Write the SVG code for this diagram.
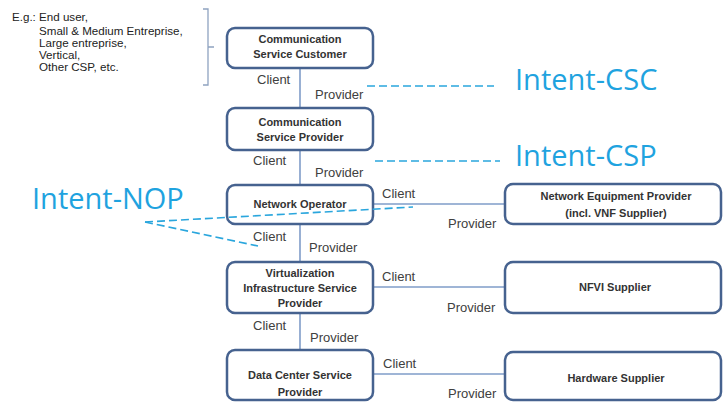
<svg xmlns="http://www.w3.org/2000/svg" width="723" height="403" viewBox="0 0 723 403">
<style>
.box{fill:#fff;stroke:#46628f;stroke-width:2.5}
.bt{font-family:"Liberation Sans",Arial,sans-serif;font-weight:bold;font-size:11px;fill:#333;text-anchor:middle}
.lbl{font-family:"Liberation Sans",Arial,sans-serif;font-size:13px;fill:#404040}
.note{font-family:"Liberation Sans",Arial,sans-serif;font-size:11.6px;fill:#222}
.link{stroke:#7f9cc8;stroke-width:1.6;fill:none}
.dash{stroke:#2aa6dd;stroke-width:1.6;stroke-dasharray:8 4;fill:none}
.intent{font-family:"Open Sans","Noto Sans",sans-serif;font-size:29px;fill:#1fa3df}
</style>
<rect width="723" height="403" fill="#fff"/>
<g id="note">
<text class="note" x="12" y="21">E.g.: End user,</text>
<text class="note" x="39" y="35">Small &amp; Medium Entreprise,</text>
<text class="note" x="39" y="47">Large entreprise,</text>
<text class="note" x="39" y="59">Vertical,</text>
<text class="note" x="39" y="71">Other CSP, etc.</text>
<path d="M203,9 H208 V47 H214 M208,47 V85 H203" fill="none" stroke="#8fa3c0" stroke-width="1.3"/>
</g>
<g id="connectors">
<line class="link" x1="300" y1="68" x2="300" y2="350"/>
<line class="link" x1="373" y1="204" x2="505" y2="204"/>
<line class="link" x1="373" y1="287" x2="505" y2="287"/>
<line class="link" x1="373" y1="374" x2="505" y2="374"/>
<line class="dash" x1="367" y1="86" x2="494" y2="86"/>
<line class="dash" x1="375" y1="161" x2="500" y2="161"/>
<text class="lbl" x="257" y="84">Client</text>
<text class="lbl" x="315" y="99">Provider</text>
<text class="lbl" x="253" y="165">Client</text>
<text class="lbl" x="315" y="177">Provider</text>
<text class="lbl" x="253" y="241">Client</text>
<text class="lbl" x="309" y="252">Provider</text>
<text class="lbl" x="253" y="330">Client</text>
<text class="lbl" x="310" y="342">Provider</text>
<text class="lbl" x="382" y="198">Client</text>
<text class="lbl" x="448" y="228">Provider</text>
<text class="lbl" x="382" y="281">Client</text>
<text class="lbl" x="447" y="312">Provider</text>
<text class="lbl" x="383" y="368">Client</text>
<text class="lbl" x="448" y="398">Provider</text>
</g>
<g id="csc">
<rect class="box" x="227" y="28" width="146" height="40" rx="8"/>
<text class="bt" x="300" y="43">Communication</text>
<text class="bt" x="300" y="58">Service Customer</text>
</g>
<g id="csp">
<rect class="box" x="227" y="108" width="146" height="42" rx="8"/>
<text class="bt" x="300" y="126">Communication</text>
<text class="bt" x="300" y="141">Service Provider</text>
</g>
<g id="nop">
<rect class="box" x="227" y="185" width="146" height="39" rx="8"/>
<text class="bt" x="300" y="208">Network Operator</text>
</g>
<g id="visp">
<rect class="box" x="227" y="262" width="146" height="51" rx="8"/>
<text class="bt" x="300" y="277">Virtualization</text>
<text class="bt" x="300" y="292">Infrastructure Service</text>
<text class="bt" x="300" y="307">Provider</text>
</g>
<g id="dcsp">
<rect class="box" x="227" y="350" width="146" height="50" rx="8"/>
<text class="bt" x="300" y="379">Data Center Service</text>
<text class="bt" x="300" y="396">Provider</text>
</g>
<g id="nep">
<rect class="box" x="505" y="184" width="216" height="40" rx="8"/>
<text class="bt" x="616" y="200">Network Equipment  Provider</text>
<text class="bt" x="616" y="217">(incl. VNF Supplier)</text>
</g>
<g id="nfvi">
<rect class="box" x="505" y="262" width="216" height="51" rx="8"/>
<text class="bt" x="615" y="291">NFVI Supplier</text>
</g>
<g id="hw">
<rect class="box" x="505" y="352" width="216" height="48" rx="8"/>
<text class="bt" x="616" y="382">Hardware Supplier</text>
</g>
<g id="intents">
<line class="dash" x1="145" y1="222" x2="413" y2="207"/>
<line class="dash" x1="145" y1="222" x2="258" y2="246"/>
<text class="intent" x="515" y="90">Intent-CSC</text>
<text class="intent" x="515" y="166">Intent-CSP</text>
<text class="intent" x="32" y="209">Intent-NOP</text>
</g>
</svg>
